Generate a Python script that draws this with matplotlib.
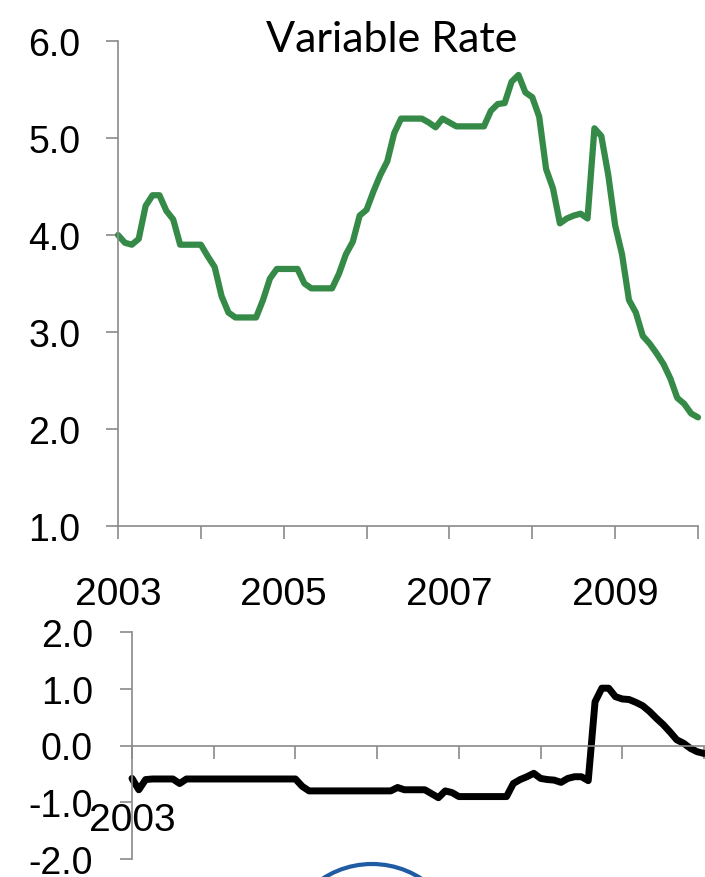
import matplotlib
matplotlib.use("Agg")
import matplotlib.pyplot as plt
from matplotlib.patches import Circle

plt.rcParams['font.family'] = ['Liberation Sans', 'DejaVu Sans']
plt.rcParams['axes.unicode_minus'] = False

# monthly data, Jan 2003 .. Jan 2010
months = list(range(85))
variable_rate = [
    4.00, 3.92, 3.90, 3.96, 4.30, 4.41, 4.41, 4.25, 4.16, 3.90,
    3.90, 3.90, 3.90, 3.78, 3.67, 3.37, 3.20, 3.15, 3.15, 3.15,
    3.15, 3.33, 3.55, 3.65, 3.65, 3.65, 3.65, 3.50, 3.45, 3.45,
    3.45, 3.45, 3.60, 3.80, 3.93, 4.20, 4.26, 4.45, 4.62, 4.76,
    5.05, 5.20, 5.20, 5.20, 5.20, 5.16, 5.11, 5.20, 5.16, 5.12,
    5.12, 5.12, 5.12, 5.12, 5.28, 5.35, 5.36, 5.58, 5.65, 5.47,
    5.42, 5.22, 4.68, 4.48, 4.12, 4.17, 4.20, 4.22, 4.17, 5.10,
    5.02, 4.62, 4.10, 3.80, 3.33, 3.20, 2.96, 2.88, 2.78, 2.67,
    2.52, 2.32, 2.26, 2.16, 2.12,
]
spread = [
    -0.58, -0.78, -0.60, -0.59, -0.59, -0.59, -0.59, -0.67, -0.59, -0.59,
    -0.59, -0.59, -0.59, -0.59, -0.59, -0.59, -0.59, -0.59, -0.59, -0.59,
    -0.59, -0.59, -0.59, -0.59, -0.59, -0.72, -0.80, -0.80, -0.80, -0.80,
    -0.80, -0.80, -0.80, -0.80, -0.80, -0.80, -0.80, -0.80, -0.80, -0.74,
    -0.78, -0.78, -0.78, -0.78, -0.85, -0.92, -0.80, -0.83, -0.90, -0.90,
    -0.90, -0.90, -0.90, -0.90, -0.90, -0.90, -0.67, -0.60, -0.55, -0.49,
    -0.58, -0.60, -0.61, -0.65, -0.58, -0.55, -0.55, -0.62, 0.77, 1.01,
    1.01, 0.86, 0.82, 0.81, 0.76, 0.70, 0.60, 0.48, 0.37, 0.24,
    0.10, 0.04, -0.05, -0.11, -0.14,
]
years = list(range(2003, 2011))
top_labels = ['2003', '', '2005', '', '2007', '', '2009', '']
bottom_labels = ['2003', '', '', '', '', '', '', '']
top_yticks = [1.0, 2.0, 3.0, 4.0, 5.0, 6.0]
bottom_yticks = [-2.0, -1.0, 0.0, 1.0, 2.0]

x = [2003 + m / 12 for m in months]
grey = '#8a8a8a'

fig = plt.figure(figsize=(7.05, 8.78), dpi=100)

# top panel
ax1 = fig.add_axes([118 / 705, 1 - 527 / 878, 580 / 705, 485 / 878])
ax1.plot(x, variable_rate, color='#358a48', lw=4.5, solid_joinstyle='round',
         solid_capstyle='round', clip_on=False)
ax1.set_xlim(2003, 2010)
ax1.set_ylim(1, 6)
ax1.set_xticks(years)
ax1.set_xticklabels(top_labels)
ax1.set_yticks(top_yticks)
ax1.set_yticklabels([f"{v:.1f}" for v in top_yticks])
ax1.tick_params(axis='x', length=9, width=1.2, color=grey, labelsize=28, pad=27)
ax1.tick_params(axis='y', length=9, width=1.2, color=grey, labelsize=27, pad=18)
for s in ['top', 'right']:
    ax1.spines[s].set_visible(False)
for s in ['left', 'bottom']:
    ax1.spines[s].set_color(grey)
    ax1.spines[s].set_linewidth(1.2)
ax1.set_title("Variable Rate", family=['Lato', 'DejaVu Sans'], fontsize=31,
              x=(392 - 118) / 580, y=1.0, pad=-7)

# bottom panel
ax2 = fig.add_axes([132 / 705, 1 - 860 / 878, 572 / 705, 227 / 878])
ax2.plot(x, spread, color='black', lw=5, solid_joinstyle='round',
         solid_capstyle='round', clip_on=False)
ax2.set_xlim(2003, 2010)
ax2.set_ylim(-2, 2)
ax2.set_xticks(years)
ax2.set_xticklabels(bottom_labels)
ax2.set_yticks(bottom_yticks)
ax2.set_yticklabels([f"{v:.1f}" for v in bottom_yticks])
ax2.spines['bottom'].set_position(('data', 0))
ax2.tick_params(axis='x', length=9, width=1.2, color=grey, labelsize=28, pad=32)
ax2.tick_params(axis='y', length=9, width=1.2, color=grey, labelsize=27, pad=19)
for s in ['top', 'right']:
    ax2.spines[s].set_visible(False)
for s in ['left', 'bottom']:
    ax2.spines[s].set_color(grey)
    ax2.spines[s].set_linewidth(1.2)
ax2.set_zorder(2)

# partial logo ring at the bottom edge
ring = Circle((3.72, 8.78 - 9.555), 0.905, transform=fig.dpi_scale_trans,
              fill=False, edgecolor='#1f5ca3', lw=3)
fig.patches.append(ring)

fig.savefig("out.png", dpi=100)
